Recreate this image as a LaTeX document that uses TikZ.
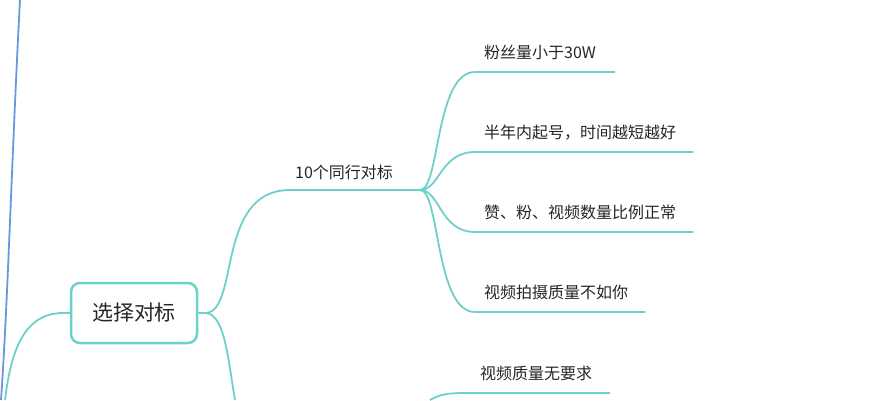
\documentclass[tikz,border=0pt]{standalone}
\usepackage{fontspec}
\setmainfont{Noto Sans CJK SC}
\definecolor{tl}{HTML}{6DD0CB}
\definecolor{bl}{HTML}{6A98E0}
\begin{document}
\begin{tikzpicture}[x=1pt,y=-1pt,
  br/.style={draw=tl,line width=1.8pt},
  lf/.style={anchor=south west,font=\fontsize{16}{18}\selectfont,inner sep=0pt,text=black!85}]
\useasboundingbox (0,0) rectangle (887,400);
\draw[bl,line width=1.8pt] (20,0) .. controls (12,150) and (8,300) .. (1,400);
\node[draw=tl,line width=2.5pt,rounded corners=9pt,minimum width=126pt,minimum height=60pt,font=\fontsize{21}{24}\selectfont,text=black!85] (main) at (134,313) {选择对标};
\coordinate (mr) at (main.east);
\coordinate (ml) at (main.west);
\draw[br] (ml) -- (63,313) .. controls (20,313) and (10,360) .. (5,400);
\coordinate (hub) at (420,190);
\draw[br] (mr) -- (205,313) .. controls (240,313) and (215,190) .. (290,190) -- (hub);
\draw[br] (205,313) .. controls (225,313) and (228,360) .. (235,400);
\node[lf,anchor=south] (t10) at (344,180) {10个同行对标};
\node[lf] (a) at (484,60) {粉丝量小于30W};
\node[lf] (b) at (484,140) {半年内起号，时间越短越好};
\node[lf] (c) at (484,220) {赞、粉、视频数量比例正常};
\node[lf] (d) at (484,300) {视频拍摄质量不如你};
\node[lf] (e) at (480,381) {视频质量无要求};
\draw[br] (hub) .. controls (440,190) and (435,72) .. (475,72) -- (615,72);
\draw[br] (hub) .. controls (440,190) and (440,152) .. (475,152) -- (693,152);
\draw[br] (hub) .. controls (440,190) and (440,232) .. (475,232) -- (693,232);
\draw[br] (hub) .. controls (440,190) and (435,312) .. (475,312) -- (645,312);
\draw[br] (430,400) .. controls (440,394) and (450,393) .. (465,393) -- (610,393);
\end{tikzpicture}
\end{document}
